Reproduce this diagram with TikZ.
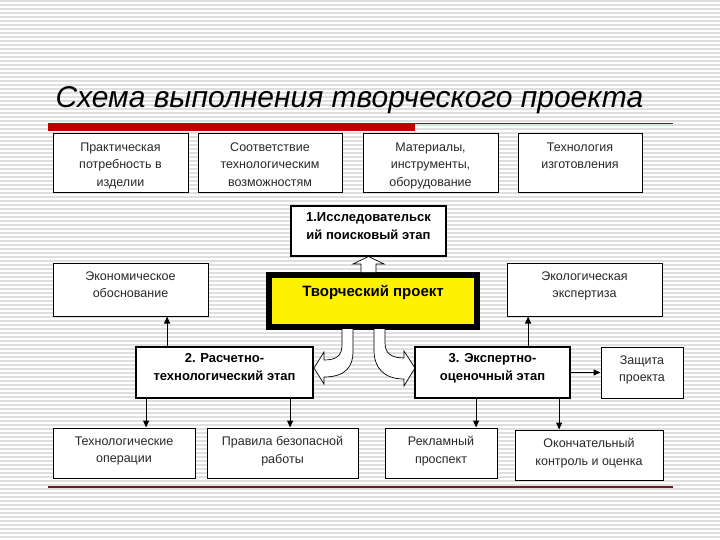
\documentclass[tikz,border=0pt]{standalone}
\usepackage{fontspec}
\setmainfont{Liberation Sans}
\usetikzlibrary{arrows.meta}

\definecolor{barred}{RGB}{192,0,0}
\definecolor{linered}{RGB}{110,30,30}
\definecolor{txtgray}{RGB}{40,40,40}

\tikzset{
  box/.style={draw, line width=1pt, fill=white, inner sep=0pt},
  stage/.style={box, line width=1.8pt},
  note/.style={label={[txt,anchor=north,yshift=-9pt]north:{#1}}},
  bnote/.style={label={[btxt,anchor=north,yshift=-7.5pt]north:{#1}}},
  txt/.style={align=center, text=txtgray, inner sep=0pt, font=\fontsize{12.5}{17.5}\selectfont},
  btxt/.style={align=center, inner sep=0pt, font=\bfseries\fontsize{13}{18}\selectfont},
  arr/.style={line width=1.1pt, -{Triangle[length=7pt,width=6pt]}},
  hollow/.style={draw, fill=white, line width=0.7pt}
}

\begin{document}
\begin{tikzpicture}[x=1pt,y=-1pt]
  \useasboundingbox (0,0) rectangle (720,540);
  % striped background
  \fill[white] (0,0) rectangle (720,540);
  \foreach \y in {1,5,...,537}
    \draw[gray!25, line width=1.3pt] (0,\y) -- (720,\y);

  \node[anchor=base west, font=\itshape\fontsize{30}{30}\selectfont] (title) at (52,108) {Схема выполнения творческого проекта};
  \fill[barred] (48,123) rectangle (415,131);
  \draw[linered, line width=1pt] (415,124) -- (673,124);
  \draw[linered, line width=1.2pt] (48,487) -- (673,487);

  % top row
  \node[box, minimum width=135pt, minimum height=59pt, note={Практическая\\потребность в\\изделии}] (need) at (120.5,163.5) {};
  \node[box, minimum width=144pt, minimum height=59pt, note={Соответствие\\технологическим\\возможностям}] (fit) at (270,163.5) {};
  \node[box, minimum width=135pt, minimum height=59pt, note={Материалы,\\инструменты,\\оборудование}] (tools) at (430.5,163.5) {};
  \node[box, minimum width=124pt, minimum height=59pt, note={Технология\\изготовления}] (techn) at (580,163.5) {};

  \node[stage, minimum width=155pt, minimum height=50pt, bnote={1.Исследовательск\\ий поисковый этап}] (search) at (368.5,231) {};

  % middle
  \node[draw, fill=yellow, line width=6pt, minimum width=208pt, minimum height=52pt, inner sep=0pt] (proj) at (373,301) {};
  \node[font=\bfseries\fontsize{15}{18}\selectfont, anchor=north] (projtxt) at ([yshift=-10pt]proj.north) {Творческий проект};
  \node[box, minimum width=155pt, minimum height=53pt, note={Экономическое\\обоснование}] (econ) at (130.5,289.5) {};
  \node[box, minimum width=155pt, minimum height=53pt, note={Экологическая\\экспертиза}] (eco) at (584.5,289.5) {};

  % hollow arrows
  \draw[hollow] (361,272) -- (361,264) -- (353,264) -- (368.5,256.5) -- (384,264) -- (376,264) -- (376,272);
  \draw[hollow] (342,329) -- (342,345) .. controls (342,356) and (336,360) .. (324,360) -- (324,352) -- (314,368) -- (324,384) -- (324,377) .. controls (346,377) and (353,366) .. (353,352) -- (353,329);
  \draw[hollow] (385,329) -- (385,343) .. controls (385,353) and (391,358) .. (404,358) -- (404,351) -- (415,368) -- (404,386) -- (404,379) .. controls (384,379) and (374,368) .. (374,350) -- (374,329);

  % stages
  \node[stage, minimum width=177pt, minimum height=51pt, bnote={2. Расчетно-\\технологический этап}] (calc) at (224.5,372.5) {};
  \node[stage, minimum width=155pt, minimum height=51pt, bnote={3. Экспертно-\\оценочный этап}] (expert) at (492.5,372.5) {};
  \node[box, minimum width=82pt, minimum height=51pt, note={Защита\\проекта}] (defend) at (642,372.5) {};

  % bottom row
  \node[box, minimum width=142pt, minimum height=50pt, note={Технологические\\операции}] (ops) at (124,453) {};
  \node[box, minimum width=151pt, minimum height=50pt, note={Правила безопасной\\работы}] (rules) at (282.5,453) {};
  \node[box, minimum width=112pt, minimum height=50pt, note={Рекламный\\проспект}] (advert) at (441,453) {};
  \node[box, minimum width=148pt, minimum height=50pt, note={Окончательный\\контроль и оценка}] (final) at (589,455) {};

  \draw[arr] ([xshift=32pt]calc.north west) -- ([xshift=32pt]calc.north west |- econ.south);
  \draw[arr] ([xshift=114pt]expert.north west) -- ([xshift=114pt]expert.north west |- eco.south);
  \draw[arr] (expert.east) -- (defend.west);
  \draw[arr] ([xshift=11pt]calc.south west) -- ([xshift=11pt]calc.south west |- ops.north);
  \draw[arr] ([xshift=155pt]calc.south west) -- ([xshift=155pt]calc.south west |- rules.north);
  \draw[arr] ([xshift=62pt]expert.south west) -- ([xshift=62pt]expert.south west |- advert.north);
  \draw[arr] ([xshift=145pt]expert.south west) -- ([xshift=145pt]expert.south west |- final.north);
\end{tikzpicture}
\end{document}
